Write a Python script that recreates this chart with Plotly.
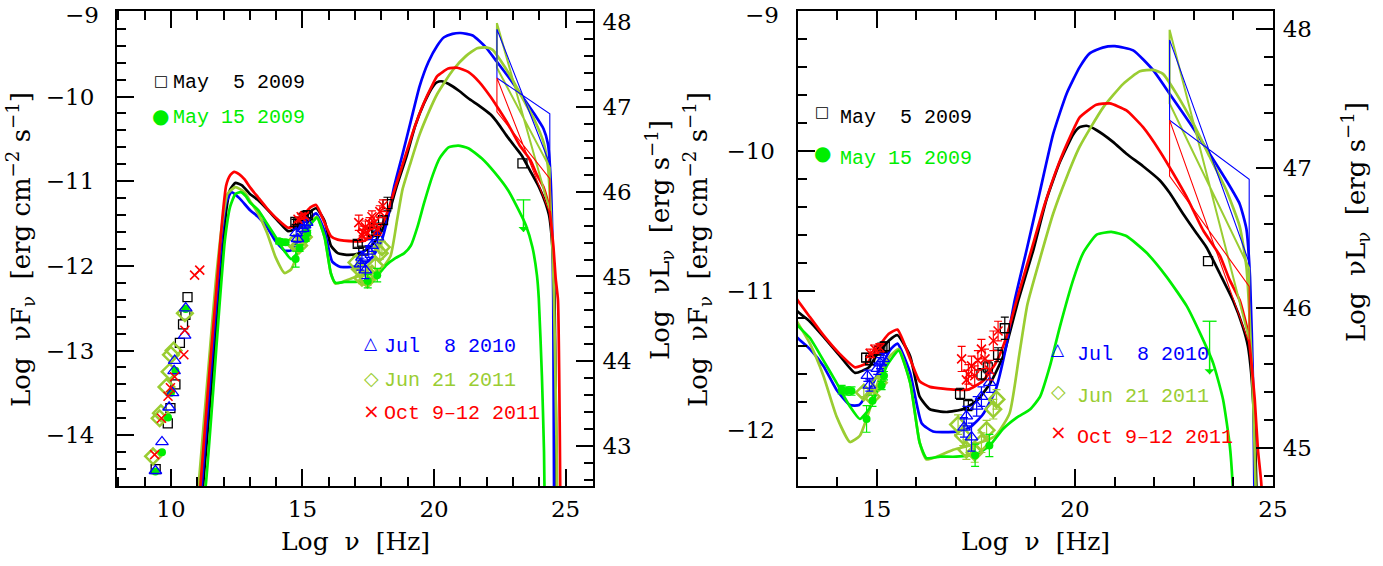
import plotly.graph_objects as go

# ---------------- constants / colours ----------------
LUM_OFFSET = 57.125          # log(4 pi d_L^2): converts log nuF_nu -> log nuL_nu
C_MAY5 = "#000000"
C_MAY15 = "#00ee00"
C_JUL8 = "#0000ff"
C_JUN21 = "#9acd32"
C_OCT = "#ff0000"

# ---------------- axis ticks ----------------
yl_tickvals = [-14, -13, -12, -11, -10, -9]
yr_tickvals = [-12, -11, -10, -9]

# ---------------- model curves (log nu, log nuF_nu) ----------------
may5_x = [11.0, 11.22, 11.5, 11.8, 11.95, 12.1, 12.25, 12.45, 12.7, 13.0, 13.3, 13.65, 14.07, 14.45,
          14.8, 15.0, 15.3, 15.52, 15.84, 16.08, 16.34, 16.76, 17.17, 17.52, 17.85, 18.19, 18.57,
          18.95, 19.28, 19.62, 19.96, 20.12, 20.29, 20.54, 20.96, 21.3, 21.72, 22.14, 22.39, 22.73,
          23.07, 23.32, 23.66, 23.99, 24.24, 24.37, 24.45, 24.54, 24.58, 24.62, 24.66, 24.68]
may5_y = [-15.2, -14.6, -13.55, -12.45, -11.9, -11.35, -11.1, -11.02, -11.05, -11.15, -11.22, -11.33, -11.47, -11.59,
          -11.55, -11.46, -11.36, -11.32, -11.47, -11.76, -11.85, -11.87, -11.85, -11.79, -11.67, -11.47, -11.07,
          -10.71, -10.35, -10.08, -9.88, -9.83, -9.82, -9.85, -9.935, -10.02, -10.11, -10.21, -10.30, -10.45,
          -10.59, -10.69, -10.88, -11.07, -11.26, -11.40, -11.59, -12.02, -12.40, -13.5, -14.6, -15.2]

may15_x = [11.05, 11.32, 11.6, 11.85, 12.05, 12.25, 12.45, 12.65, 12.85, 13.0, 13.31, 13.65, 13.98, 14.32,
           14.57, 14.8, 15.0, 15.25, 15.55, 15.84, 16.08, 16.25, 16.6, 17.0, 17.52, 17.85, 18.19, 18.53,
           18.87, 19.12, 19.37, 19.62, 19.96, 20.21, 20.55, 20.92, 21.3, 21.81, 22.31, 22.82, 23.15, 23.49,
           23.74, 23.91, 23.98, 24.1, 24.18, 24.22]
may15_y = [-15.2, -14.6, -13.5, -12.45, -11.7, -11.3, -11.15, -11.13, -11.18, -11.25, -11.34, -11.5, -11.66, -11.83,
           -11.92, -11.85, -11.73, -11.54, -11.43, -11.66, -12.09, -12.2, -12.19, -12.19, -12.17, -12.11, -11.99, -11.91,
           -11.85, -11.76, -11.54, -11.26, -10.92, -10.73, -10.60, -10.58, -10.61, -10.73, -10.90, -11.11, -11.30, -11.52,
           -11.78, -12.11, -12.38, -13.3, -14.2, -15.2]

jul8_x = [11.0, 11.17, 11.45, 11.75, 11.95, 12.1, 12.3, 12.6, 13.0, 13.31, 13.65, 13.98, 14.32, 14.55,
          14.82, 15.1, 15.35, 15.52, 15.84, 16.13, 16.42, 17.0, 17.35, 17.67, 18.0, 18.25, 18.48, 18.78,
          19.11, 19.45, 19.79, 20.12, 20.38, 20.7, 21.01, 21.47, 21.97, 22.39, 22.9, 23.4, 23.82, 24.16,
          24.33, 24.42, 24.5, 24.53, 24.56, 24.58]
jul8_y = [-15.2, -14.6, -13.5, -12.35, -11.6, -11.25, -11.13, -11.2, -11.34, -11.42, -11.54, -11.71, -11.82, -11.82,
          -11.71, -11.55, -11.42, -11.38, -11.59, -11.95, -12.01, -12.01, -11.98, -11.89, -11.71, -11.42, -11.07, -10.71,
          -10.30, -9.88, -9.59, -9.40, -9.30, -9.26, -9.25, -9.28, -9.42, -9.59, -9.80, -10.02, -10.21, -10.38,
          -10.56, -10.9, -11.7, -12.4, -14.6, -15.2]

jun21_x = [10.9, 11.05, 11.4, 11.7, 11.95, 12.15, 12.45, 12.8, 13.0, 13.31, 13.65, 13.98, 14.32, 14.57,
           14.82, 15.08, 15.33, 15.55, 15.84, 16.08, 16.25, 16.51, 16.93, 17.35, 17.7, 18.0, 18.35, 18.6,
           18.8, 19.11, 19.45, 19.79, 20.12, 20.71, 21.22, 21.64, 21.97, 22.23, 22.56, 22.98, 23.4, 23.82,
           24.16, 24.33, 24.41, 24.5, 24.56, 24.65, 24.7]
jun21_y = [-15.2, -14.6, -13.3, -12.2, -11.5, -11.15, -11.07, -11.13, -11.23, -11.38, -11.61, -11.9, -12.085, -12.04,
           -11.85, -11.61, -11.47, -11.42, -11.66, -12.09, -12.21, -12.19, -12.14, -12.11, -12.08, -12.04, -11.88, -11.45,
           -11.1, -10.78, -10.45, -10.19, -9.97, -9.69, -9.52, -9.43, -9.42, -9.45, -9.59, -9.80, -10.04, -10.28,
           -10.54, -10.83, -11.19, -11.78, -12.4, -14.0, -15.2]

oct_x = [10.95, 11.12, 11.45, 11.75, 11.95, 12.1, 12.25, 12.4, 12.6, 12.8, 13.0, 13.31, 13.65, 14.05,
         14.45, 14.75, 15.0, 15.3, 15.52, 15.84, 16.08, 16.34, 17.0, 17.3, 17.67, 18.0, 18.25, 18.53,
         18.9, 19.24, 19.58, 19.91, 20.12, 20.54, 20.88, 21.3, 21.72, 22.14, 22.48, 22.82, 23.24, 23.66,
         23.9, 24.16, 24.37, 24.45, 24.54, 24.62, 24.71, 24.78, 24.81]
oct_y = [-15.2, -14.6, -13.3, -12.2, -11.45, -11.05, -10.93, -10.89, -10.92, -10.98, -11.07, -11.19, -11.32, -11.45,
         -11.55, -11.52, -11.42, -11.31, -11.28, -11.49, -11.65, -11.69, -11.71, -11.71, -11.65, -11.52, -11.35, -11.07,
         -10.71, -10.38, -10.10, -9.88, -9.76, -9.67, -9.66, -9.71, -9.83, -10.0, -10.16, -10.33, -10.57, -10.75,
         -10.92, -11.07, -11.30, -11.50, -11.78, -12.14, -12.40, -14.0, -15.2]

# ---------------- Fermi bow-ties ----------------
bt_x = [22.39, 24.40, 24.40, 22.39, 22.39]
jun21_bt_y = [-9.133, -11.35, -10.84, -9.66, -9.133]
jul8_bt_y = [-9.205, -10.80, -10.204, -9.78, -9.205]
oct_bt_y = [-9.78, -11.38, -10.97, -10.18, -9.78]

# ---------------- data points ----------------
may5_radio_x = [9.42, 9.88, 9.98, 10.17, 10.34, 10.46, 10.55, 10.63]
may5_radio_y = [-14.40, -13.86, -13.68, -13.40, -12.91, -12.69, -12.58, -12.37]
may5_opt_x = [14.73, 14.83, 15.05, 15.14, 15.20]
may5_opt_y = [-11.48, -11.50, -11.43, -11.41, -11.40]
may5_opt_e = [0.03, 0.03, 0.03, 0.03, 0.03]
may5_xr_x = [17.10, 17.31, 17.64, 17.80, 18.06, 18.23]
may5_xr_y = [-11.74, -11.82, -11.60, -11.55, -11.46, -11.27]
may5_xr_e = [0.04, 0.04, 0.04, 0.04, 0.05, 0.08]
may5_gam_x = [23.36]
may5_gam_y = [-10.79]

may15_radio_x = [9.41, 9.66, 9.89, 10.0, 10.17, 10.56]
may15_radio_y = [-14.43, -14.20, -13.79, -13.50, -13.24, -12.51]
may15_opt_x = [14.11, 14.24, 14.36, 14.74, 14.89, 15.12, 15.18]
may15_opt_y = [-11.71, -11.72, -11.72, -11.92, -11.79, -11.68, -11.61]
may15_opt_e = [0.03, 0.03, 0.03, 0.095, 0.04, 0.03, 0.03]
may15_xr_x = [17.48, 17.84]
may15_xr_y = [-12.18, -12.11]
may15_xr_e = [0.08, 0.08]
may15_ul_x = [23.40]
may15_ul_top = [-11.22]
may15_ul_bottom = [-11.60]

jul8_radio_x = [9.41, 9.66, 9.93, 10.06, 10.12, 10.14, 10.52, 10.56]
jul8_radio_y = [-14.42, -14.08, -13.67, -13.50, -13.24, -13.12, -12.82, -12.50]
jul8_opt_x = [14.76, 14.81, 15.01, 15.08, 15.16]
jul8_opt_y = [-11.61, -11.68, -11.56, -11.52, -11.49]
jul8_opt_e = [0.04, 0.04, 0.04, 0.04, 0.04]
jul8_xr_x = [17.20, 17.26, 17.39, 17.52, 17.64, 17.85]
jul8_xr_y = [-11.98, -11.90, -12.05, -11.83, -11.76, -11.66]
jul8_xr_e = [0.07, 0.07, 0.10, 0.07, 0.07, 0.07]

jun21_radio_x = [9.32, 9.57, 9.62, 9.83, 9.95, 10.0, 10.10, 10.53]
jun21_radio_y = [-14.25, -13.80, -13.74, -13.43, -13.25, -13.05, -13.0, -12.56]
jun21_opt_x = [14.67, 14.87, 15.05]
jun21_opt_y = [-11.73, -11.76, -11.66]
jun21_opt_e = [0.03, 0.03, 0.03]
jun21_xr_x = [17.05, 17.18, 17.26, 17.47, 17.64, 17.77, 17.94, 18.02]
jun21_xr_y = [-11.96, -12.04, -12.14, -12.16, -12.09, -12.0, -11.85, -11.78]
jun21_xr_e = [0.07, 0.07, 0.07, 0.07, 0.07, 0.07, 0.07, 0.07]

oct_radio_x = [9.38, 9.64, 9.89, 9.98, 10.14, 10.49, 10.53, 10.90, 11.095]
oct_radio_y = [-14.23, -13.80, -13.54, -13.44, -13.31, -13.05, -12.76, -12.11, -12.05]
oct_opt_x = [14.83, 14.95, 15.08]
oct_opt_y = [-11.45, -11.42, -11.41]
oct_opt_e = [0.03, 0.03, 0.03]
oct_xr_x = [17.14, 17.26, 17.31, 17.39, 17.47, 17.55, 17.64, 17.73, 17.85, 17.94, 18.06]
oct_xr_y = [-11.49, -11.64, -11.60, -11.54, -11.61, -11.50, -11.42, -11.49, -11.57, -11.36, -11.29]
oct_xr_e = [0.09, 0.07, 0.07, 0.07, 0.07, 0.07, 0.07, 0.07, 0.07, 0.07, 0.07]

legend_labels = ["May\u00a0\u00a05 2009", "May 15 2009", "Jul\u00a0\u00a08 2010", "Jun 21 2011", "Oct 9\u201312 2011"]

# ---------------- figure ----------------
fig = go.Figure()

panels = [("x", "y"), ("x2", "y3")]

curves = [(may5_x, may5_y, C_MAY5), (jul8_x, jul8_y, C_JUL8), (jun21_x, jun21_y, C_JUN21),
          (oct_x, oct_y, C_OCT), (may15_x, may15_y, C_MAY15)]
bowties = [(jun21_bt_y, C_JUN21, 2.0), (jul8_bt_y, C_JUL8, 1.1), (oct_bt_y, C_OCT, 1.1)]

series = [
    # (x, y, err, symbol, size, color, linewidth)
    (may5_radio_x, may5_radio_y, None, "square-open", 9, C_MAY5, 1.3),
    (may5_opt_x, may5_opt_y, may5_opt_e, "square-open", 9, C_MAY5, 1.3),
    (may5_xr_x, may5_xr_y, may5_xr_e, "square-open", 9, C_MAY5, 1.3),
    (may5_gam_x, may5_gam_y, None, "square-open", 9, C_MAY5, 1.3),
    (jun21_radio_x, jun21_radio_y, None, "diamond-open", 12, C_JUN21, 2.5),
    (jun21_opt_x, jun21_opt_y, jun21_opt_e, "diamond-open", 12, C_JUN21, 2.5),
    (jun21_xr_x, jun21_xr_y, jun21_xr_e, "diamond-open", 12, C_JUN21, 2.5),
    (may15_radio_x, may15_radio_y, None, "circle", 8, C_MAY15, 0),
    (may15_opt_x, may15_opt_y, may15_opt_e, "circle", 8, C_MAY15, 0),
    (may15_xr_x, may15_xr_y, may15_xr_e, "circle", 8, C_MAY15, 0),
    (jul8_radio_x, jul8_radio_y, None, "triangle-up-open", 11, C_JUL8, 1.3),
    (jul8_opt_x, jul8_opt_y, jul8_opt_e, "triangle-up-open", 11, C_JUL8, 1.3),
    (jul8_xr_x, jul8_xr_y, jul8_xr_e, "triangle-up-open", 11, C_JUL8, 1.3),
    (oct_radio_x, oct_radio_y, None, "x-thin-open", 9, C_OCT, 1.6),
    (oct_opt_x, oct_opt_y, oct_opt_e, "x-thin-open", 9, C_OCT, 1.6),
    (oct_xr_x, oct_xr_y, oct_xr_e, "x-thin-open", 9, C_OCT, 1.6),
]

for xa, ya in panels:
    for cx, cy, col in curves:
        fig.add_trace(go.Scatter(x=cx, y=cy, mode="lines", xaxis=xa, yaxis=ya,
                                 line=dict(color=col, width=2.7, shape="spline", smoothing=0.5),
                                 showlegend=False, hoverinfo="skip"))
    for by, col, w in bowties:
        fig.add_trace(go.Scatter(x=bt_x, y=by, mode="lines", xaxis=xa, yaxis=ya,
                                 line=dict(color=col, width=w), showlegend=False, hoverinfo="skip"))
    for sx, sy, se, sym, sz, col, lw in series:
        err = None
        if se is not None:
            err = dict(type="data", array=se, visible=True, color=col, thickness=1.2, width=4)
        fig.add_trace(go.Scatter(x=sx, y=sy, mode="markers", xaxis=xa, yaxis=ya,
                                 marker=dict(symbol=sym, size=sz, color=col, line=dict(color=col, width=lw)),
                                 error_y=err, showlegend=False, hoverinfo="skip"))
    # upper limit: vertical bar with cap and arrow
    fig.add_trace(go.Scatter(x=[may15_ul_x[0], may15_ul_x[0]], y=[may15_ul_top[0], may15_ul_bottom[0]],
                             mode="lines", xaxis=xa, yaxis=ya, line=dict(color=C_MAY15, width=1.3),
                             showlegend=False, hoverinfo="skip"))
    fig.add_trace(go.Scatter(x=may15_ul_x, y=may15_ul_top, mode="markers", xaxis=xa, yaxis=ya,
                             marker=dict(symbol="line-ew-open", size=10, color=C_MAY15,
                                         line=dict(color=C_MAY15, width=1.3)),
                             showlegend=False, hoverinfo="skip"))
    fig.add_annotation(x=may15_ul_x[0], y=may15_ul_bottom[0], ax=may15_ul_x[0], ay=may15_ul_top[0] - 0.2,
                       xref=xa, yref=ya, axref=xa, ayref=ya, text="", showarrow=True,
                       arrowhead=1, arrowsize=1.3, arrowwidth=1.3, arrowcolor=C_MAY15)

# dummy traces so the luminosity axes are drawn
fig.add_trace(go.Scatter(x=[None], y=[None], xaxis="x", yaxis="y2", showlegend=False, hoverinfo="skip"))
fig.add_trace(go.Scatter(x=[None], y=[None], xaxis="x2", yaxis="y4", showlegend=False, hoverinfo="skip"))

TICKFONT = dict(family="DejaVu Serif", size=23, color="black")
TITLEFONT = dict(family="DejaVu Serif", size=26, color="black")
XTITLEFONT = dict(family="DejaVu Serif", size=25, color="black")
LEGFONT = "Liberation Mono"


def fmt(v):
    return ("\u2212" + str(abs(v))) if v < 0 else str(v)


def xax(rng, domain, anchor):
    return dict(range=rng, domain=domain, anchor=anchor, showline=True, linewidth=2.2, linecolor="black",
                mirror="ticks", ticks="inside", ticklen=17, tickwidth=1.5, tickcolor="black",
                tick0=0, dtick=5, showgrid=False, zeroline=False, tickfont=TICKFONT,
                ticklabelstandoff=1, automargin=False, ticklabeloverflow="allow",
                minor=dict(tick0=0, dtick=1, ticks="inside", ticklen=9, tickwidth=1.5, tickcolor="black",
                           showgrid=False))


def yax(rng, anchor, side, overlaying=None, tickvals=None):
    d = dict(range=rng, anchor=anchor, side=side, showline=True, linewidth=2.2, linecolor="black",
             mirror=False, ticks="inside", ticklen=17, tickwidth=1.5, tickcolor="black",
             tick0=0, dtick=1, showgrid=False, zeroline=False, tickfont=TICKFONT,
             ticklabelstandoff=(16 if side == "left" else 3), automargin=False,
             ticklabeloverflow="allow",
             minor=dict(tick0=0, dtick=0.2, ticks="inside", ticklen=9, tickwidth=1.5, tickcolor="black",
                        showgrid=False))
    if tickvals is not None:
        # the top label is drawn separately (slightly lowered) so it stays inside the page
        d["tickmode"] = "array"
        d["tickvals"] = tickvals
        d["ticktext"] = [fmt(v) if v != max(tickvals) else "" for v in tickvals]
    if overlaying:
        d["overlaying"] = overlaying
    return d


yl_range = [-14.6, -8.99]
yr_range = [-12.4, -8.998]
D1 = [0, 0.4115]
D2 = [0.5888, 1]

fig.update_layout(
    width=1383, height=566,
    margin=dict(l=117, r=110, t=11, b=80, autoexpand=False),
    paper_bgcolor="white", plot_bgcolor="white",
    xaxis=xax([7.95, 26.03], D1, "y"),
    yaxis=yax(yl_range, "x", "left", tickvals=yl_tickvals),
    yaxis2=yax([yl_range[0] + LUM_OFFSET, yl_range[1] + LUM_OFFSET], "x", "right", "y"),
    xaxis2=xax([13, 25.001], D2, "y3"),
    yaxis3=yax(yr_range, "x2", "left", tickvals=yr_tickvals),
    yaxis4=yax([yr_range[0] + LUM_OFFSET, yr_range[1] + LUM_OFFSET], "x2", "right", "y3"),
    showlegend=False,
)


def px(X):
    return (X - 117) / 1156


def py(Y):
    return (486 - Y) / 475


# top tick labels of the nuF_nu axes
for X, vals in [(101, yl_tickvals), (781, yr_tickvals)]:
    fig.add_annotation(x=px(X), y=py(15), xref="paper", yref="paper", text=fmt(max(vals)),
                       showarrow=False, font=TICKFONT, xanchor="right", yanchor="middle")

# axis titles
ytitle_f = "Log\u00a0\u00a0\u03bdF<sub>\u03bd</sub>\u00a0\u00a0[erg cm<sup>\u22122</sup> s<sup>\u22121</sup>]"
ytitle_l = "Log\u00a0\u00a0\u03bdL<sub>\u03bd</sub>\u00a0\u00a0[erg s<sup>\u22121</sup>]"
xtitle = "Log\u00a0\u00a0\u03bd\u00a0\u00a0[Hz]"
for X, Y, txt, ang, fnt in [(21, 250, ytitle_f, -90, TITLEFONT), (698, 250, ytitle_f, -90, TITLEFONT),
                            (660, 240, ytitle_l, -90, TITLEFONT), (1355, 222, ytitle_l, -90, TITLEFONT),
                            (355, 541, xtitle, 0, XTITLEFONT), (1035, 541, xtitle, 0, XTITLEFONT)]:
    fig.add_annotation(x=px(X), y=py(Y), xref="paper", yref="paper", text=txt, textangle=ang,
                       showarrow=False, font=fnt, xanchor="center", yanchor="middle")

# legends
sym_glyph = ["\u25a1", "\u25cf", "\u25b3", "\u25c7", "\u00d7"]
sym_size = [15, 20, 17, 19, 20]
leg_cols = [C_MAY5, C_MAY15, C_JUL8, C_JUN21, C_OCT]
left_rows = [(160.5, 81, 171, 82), (160, 116, 171, 117), (371, 343, 382, 346), (371, 378, 382, 380),
             (371, 411, 382, 413)]
right_rows = [(822, 112, 838, 117), (822, 153, 838, 158), (1058, 349, 1075, 354), (1058, 391, 1075, 396),
              (1058, 432, 1075, 437)]
for rows in (left_rows, right_rows):
    for i, (sxp, syp, txp, typ) in enumerate(rows):
        fig.add_annotation(x=px(sxp), y=py(syp), xref="paper", yref="paper", text=sym_glyph[i],
                           showarrow=False, font=dict(family="DejaVu Sans", size=sym_size[i], color=leg_cols[i]),
                           xanchor="center", yanchor="middle")
        fig.add_annotation(x=px(txp), y=py(typ), xref="paper", yref="paper", text=legend_labels[i],
                           showarrow=False, font=dict(family=LEGFONT, size=20, color=leg_cols[i]),
                           xanchor="left", yanchor="middle")

fig.write_html("out.html", config={"displayModeBar": False},
               post_script="document.body.style.margin='0px';document.body.style.overflow='hidden';")
